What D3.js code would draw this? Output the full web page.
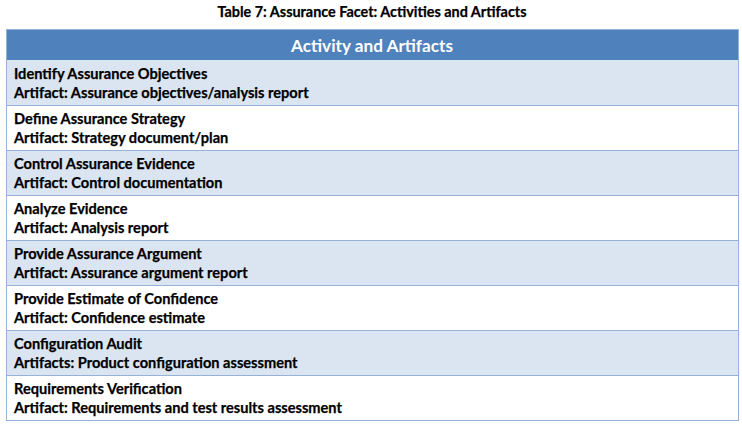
<!DOCTYPE html>
<html>
<head>
<meta charset="utf-8">
<script src="https://cdn.jsdelivr.net/npm/d3@7"></script>
<style>
  body { margin: 0; background: #fff; }
  svg text { font-family: Lato, "Open Sans", sans-serif; font-weight: bold; }
</style>
</head>
<body>
<div id="chart"></div>
<script>
const title = "Table 7: Assurance Facet: Activities and Artifacts";
const header = "Activity and Artifacts";
const activities = [
  "Identify Assurance Objectives",
  "Define Assurance Strategy",
  "Control Assurance Evidence",
  "Analyze Evidence",
  "Provide Assurance Argument",
  "Provide Estimate of Confidence",
  "Configuration Audit",
  "Requirements Verification"
];
const artifacts = [
  "Artifact: Assurance objectives/analysis report",
  "Artifact: Strategy document/plan",
  "Artifact: Control documentation",
  "Artifact: Analysis report",
  "Artifact: Assurance argument report",
  "Artifact: Confidence estimate",
  "Artifacts: Product configuration assessment",
  "Artifact: Requirements and test results assessment"
];

const width = 742, height = 426;
const left = 6.5, right = 738.5, headTop = 29, headBottom = 60, bottom = 420;

const svg = d3.select("#chart").append("svg")
  .attr("width", width)
  .attr("height", height);

const y = d3.scaleBand()
  .domain(activities.map((d, i) => i))
  .range([headBottom, bottom])
  .padding(0);

svg.append("text")
  .attr("x", 372)
  .attr("y", 17)
  .attr("text-anchor", "middle")
  .attr("font-size", 14.4)
  .attr("fill", "#000")
  .attr("stroke", "#000")
  .attr("stroke-width", 0.25)
  .text(title);

svg.append("rect")
  .attr("x", left)
  .attr("y", headTop)
  .attr("width", right - left)
  .attr("height", headBottom - headTop)
  .attr("fill", "#4f81bd");

svg.append("text")
  .attr("x", 372)
  .attr("y", 51.5)
  .attr("text-anchor", "middle")
  .attr("font-size", 17.2)
  .attr("fill", "#fff")
  .text(header);

const rows = svg.append("g")
  .selectAll("g")
  .data(activities)
  .join("g")
  .attr("transform", (d, i) => `translate(0,${y(i)})`);

rows.append("rect")
  .attr("x", left)
  .attr("y", 0)
  .attr("width", right - left)
  .attr("height", y.bandwidth())
  .attr("fill", (d, i) => i % 2 === 0 ? "#dbe5f1" : "#fff");

rows.selectAll("text")
  .data((d, i) => [d, artifacts[i]])
  .join("text")
  .attr("x", 14)
  .attr("y", (d, j) => 18.5 + j * 19)
  .attr("font-size", 14.6)
  .attr("fill", "#000")
  .attr("stroke", "#000")
  .attr("stroke-width", 0.25)
  .text(d => d);

// row separators and outer border
svg.append("g")
  .selectAll("line")
  .data(activities.slice(1).map((d, i) => i + 1))
  .join("line")
  .attr("x1", left)
  .attr("x2", right)
  .attr("y1", i => Math.round(y(i)) + 0.5)
  .attr("y2", i => Math.round(y(i)) + 0.5)
  .attr("stroke", "#95b3d7")
  .attr("stroke-width", 1);

svg.append("rect")
  .attr("x", left)
  .attr("y", headTop + 0.5)
  .attr("width", right - left)
  .attr("height", bottom - headTop)
  .attr("fill", "none")
  .attr("stroke", "#95b3d7")
  .attr("stroke-width", 1);
</script>
</body>
</html>
